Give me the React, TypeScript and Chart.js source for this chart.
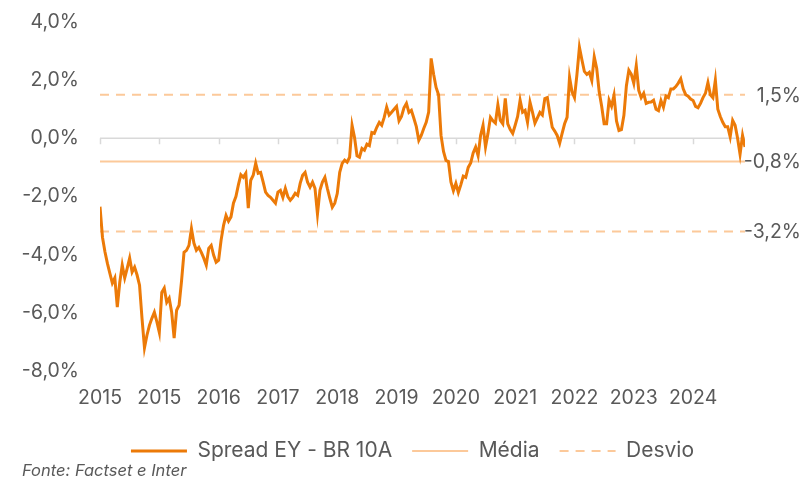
import React, { useEffect, useRef } from 'react';
import { Chart, registerables } from 'chart.js';

Chart.register(...registerables);

const yearLabels = ['2015', '2015', '2016', '2017', '2018', '2019', '2020', '2021', '2022', '2023', '2024'];
const POINTS_PER_LABEL = 24;

const spread = [
  -2.35, -3.4, -3.9, -4.3, -4.64, -4.98, -4.8, -5.8, -4.95, -4.36,
  -4.8, -4.47, -4.12, -4.6, -4.43, -4.7, -5.05, -6.19, -7.2, -6.77,
  -6.43, -6.19, -5.98, -6.3, -6.67, -5.3, -5.15, -5.64, -5.5, -5.98,
  -6.87, -5.91, -5.74, -4.9, -3.92, -3.85, -3.68, -3.1, -3.6, -3.85,
  -3.75, -3.92, -4.12, -4.36, -3.78, -3.68, -4.02, -4.26, -4.19, -3.5,
  -2.99, -2.65, -2.85, -2.7, -2.23, -2.0, -1.6, -1.25, -1.34, -1.2,
  -2.4, -1.44, -1.27, -0.86, -1.2, -1.17, -1.5, -1.85, -1.96, -2.03,
  -2.13, -2.23, -1.85, -1.79, -2.03, -1.72, -2.0, -2.13, -2.03, -1.89,
  -1.96, -1.55, -1.27, -1.17, -1.51, -1.68, -1.51, -1.72, -2.6, -1.79,
  -1.5, -1.34, -1.72, -2.06, -2.37, -2.23, -1.9, -1.17, -0.86, -0.75,
  -0.82, -0.65, 0.45, 0.03, -0.6, -0.65, -0.35, -0.41, -0.2, -0.25,
  0.2, 0.17, 0.38, 0.55, 0.45, 0.72, 1.07, 0.8, 0.9, 1.0,
  1.1, 0.6, 0.75, 1.05, 1.2, 0.89, 0.96, 0.69, 0.4, -0.07,
  0.1, 0.34, 0.55, 0.9, 2.75, 2.2, 1.75, 1.5, 0.1, -0.45,
  -0.76, -0.8, -1.5, -1.8, -1.55, -1.86, -1.6, -1.3, -1.34, -1.0,
  -0.85, -0.5, -0.3, -0.6, 0.1, 0.45, -0.3, 0.17, 0.72, 0.6,
  0.52, 1.15, 0.62, 0.5, 1.37, 0.5, 0.3, 0.17, 0.45, 0.75,
  1.31, 0.9, 0.96, 0.55, 1.24, 0.9, 0.52, 0.7, 0.89, 0.8,
  1.37, 1.4, 0.86, 0.38, 0.25, 0.1, -0.17, 0.17, 0.5, 0.72,
  2.1, 1.6, 1.4, 2.2, 3.13, 2.7, 2.3, 2.2, 2.27, 1.99,
  2.8, 2.4, 1.6, 1.1, 0.5, 0.5, 1.31, 1.1, 1.48, 0.6,
  0.27, 0.3, 0.79, 1.8, 2.34, 2.2, 1.89, 2.5, 1.65, 1.4,
  1.55, 1.2, 1.24, 1.25, 1.31, 1.0, 0.95, 1.3, 1.07, 1.45,
  1.4, 1.7, 1.7, 1.78, 1.9, 2.05, 1.7, 1.5, 1.45, 1.35,
  1.3, 1.1, 1.05, 1.2, 1.4, 1.55, 1.92, 1.5, 1.4, 2.0,
  1.0, 0.75, 0.55, 0.4, 0.4, 0.05, 0.62, 0.45, 0.0, -0.55,
  0.1, -0.3,
];

const meanValue = -0.8;
const upperValue = 1.5;
const lowerValue = -3.2;

const seriesNames = ['Spread EY - BR 10A', 'Média', 'Desvio'];
const sourceText = 'Fonte: Factset e Inter';

const Y_MIN = -8;
const Y_MAX = 4;
const Y_STEP = 2;

const MAIN_COLOR = '#EC7A08';
const LIGHT_COLOR = '#FCC99A';
const TEXT_COLOR = '#595959';
const FONT = 'Inter';
const TICK_SIZE = 19.5;
const LEGEND_SIZE = 21;

const fmtPct = (v: number, d: number) => v.toFixed(d).replace('.', ',') + '%';

export default function App() {
  const canvasRef = useRef<HTMLCanvasElement | null>(null);

  useEffect(() => {
    if (!canvasRef.current) return;
    const last = spread.length - 1;
    const flat = (v: number) => [
      { x: 0, y: v },
      { x: last, y: v },
    ];

    const overlay = {
      id: 'overlay',
      beforeDatasetsDraw(chart: any) {
        const { ctx, chartArea, scales } = chart;
        const y0 = scales.y.getPixelForValue(0);
        ctx.save();
        ctx.strokeStyle = '#D9D9D9';
        ctx.lineWidth = 1.5;
        ctx.beginPath();
        ctx.moveTo(chartArea.left, y0);
        ctx.lineTo(chartArea.right, y0);
        scales.x.ticks.forEach((t: any) => {
          const x = Math.round(scales.x.getPixelForValue(t.value)) + 0.5;
          ctx.moveTo(x, y0);
          ctx.lineTo(x, y0 + 6);
        });
        ctx.stroke();
        ctx.restore();
      },
      afterDraw(chart: any) {
        const { ctx, scales, width, height } = chart;
        ctx.save();
        ctx.fillStyle = TEXT_COLOR;
        ctx.font = `${TICK_SIZE}px ${FONT}`;
        ctx.textAlign = 'right';
        ctx.textBaseline = 'middle';
        [upperValue, meanValue, lowerValue].forEach((v) => {
          ctx.fillText(fmtPct(v, 1), width - 4, scales.y.getPixelForValue(v) + 1);
        });
        ctx.font = `italic 16.5px ${FONT}`;
        ctx.textAlign = 'left';
        ctx.fillText(sourceText, 22, height - 10);
        ctx.restore();
      },
    };

    const chart = new Chart(canvasRef.current, {
      type: 'line',
      data: {
        datasets: [
          {
            label: seriesNames[0],
            data: spread.map((v, i) => ({ x: i, y: v })),
            borderColor: MAIN_COLOR,
            backgroundColor: MAIN_COLOR,
            borderWidth: 3,
            pointRadius: 0,
            tension: 0,
          },
          {
            label: seriesNames[1],
            data: flat(meanValue),
            borderColor: LIGHT_COLOR,
            backgroundColor: LIGHT_COLOR,
            borderWidth: 2,
            pointRadius: 0,
          },
          {
            label: seriesNames[2],
            data: flat(upperValue),
            borderColor: LIGHT_COLOR,
            backgroundColor: LIGHT_COLOR,
            borderWidth: 2,
            borderDash: [9, 7],
            pointRadius: 0,
          },
          {
            label: seriesNames[2] + ' inferior',
            data: flat(lowerValue),
            borderColor: LIGHT_COLOR,
            backgroundColor: LIGHT_COLOR,
            borderWidth: 2,
            borderDash: [9, 7],
            pointRadius: 0,
          },
        ],
      },
      options: {
        animation: false,
        responsive: true,
        maintainAspectRatio: false,
        layout: { padding: { left: 20, right: 0, top: 22, bottom: 9.5 } },
        scales: {
          x: {
            type: 'linear',
            min: 0,
            max: last,
            grid: { display: false, drawTicks: false },
            border: { display: false },
            afterFit: (s: any) => {
              s.height = 49.5;
            },
            ticks: {
              stepSize: POINTS_PER_LABEL,
              includeBounds: false,
              autoSkip: false,
              maxRotation: 0,
              padding: 15,
              color: TEXT_COLOR,
              font: { family: FONT, size: TICK_SIZE },
              callback: (v: any) => {
                const idx = Number(v) / POINTS_PER_LABEL;
                return Number.isInteger(idx) && yearLabels[idx] !== undefined ? yearLabels[idx] : '';
              },
            },
          },
          y: {
            min: Y_MIN,
            max: Y_MAX,
            grid: { display: false, drawTicks: true, tickLength: 21 },
            border: { display: false },
            afterFit: (s: any) => {
              s.width = 80;
            },
            ticks: {
              stepSize: Y_STEP,
              padding: 0,
              color: TEXT_COLOR,
              font: { family: FONT, size: TICK_SIZE },
              callback: (v: any) => fmtPct(Number(v), 1),
            },
          },
          y2: {
            position: 'right',
            min: Y_MIN,
            max: Y_MAX,
            grid: { display: false, drawTicks: false },
            border: { display: false },
            ticks: { display: false, padding: 0 },
            afterFit: (s: any) => {
              s.width = 60;
            },
          },
        },
        plugins: {
          legend: {
            position: 'bottom',
            labels: {
              usePointStyle: true,
              pointStyle: 'line',
              pointStyleWidth: 56,
              padding: 20,
              color: TEXT_COLOR,
              font: { family: FONT, size: LEGEND_SIZE },
              generateLabels: (c: any) => {
                const base = Chart.defaults.plugins.legend.labels.generateLabels(c);
                return base
                  .filter((it: any) => it.datasetIndex !== 3)
                  .map((it: any) => {
                    const ds: any = c.data.datasets[it.datasetIndex];
                    return {
                      ...it,
                      pointStyle: 'line',
                      lineWidth: ds.borderWidth,
                      lineDash: ds.borderDash || [],
                      strokeStyle: ds.borderColor,
                      fillStyle: ds.borderColor,
                      lineCap: 'butt',
                    };
                  });
              },
            },
          },
          tooltip: { enabled: false },
        },
      },
      plugins: [overlay],
    } as any);

    return () => chart.destroy();
  }, []);

  return (
    <div style={{ position: 'fixed', left: 0, top: 0, width: 805, height: 481, background: '#fff' }}>
      <canvas ref={canvasRef} />
    </div>
  );
}
